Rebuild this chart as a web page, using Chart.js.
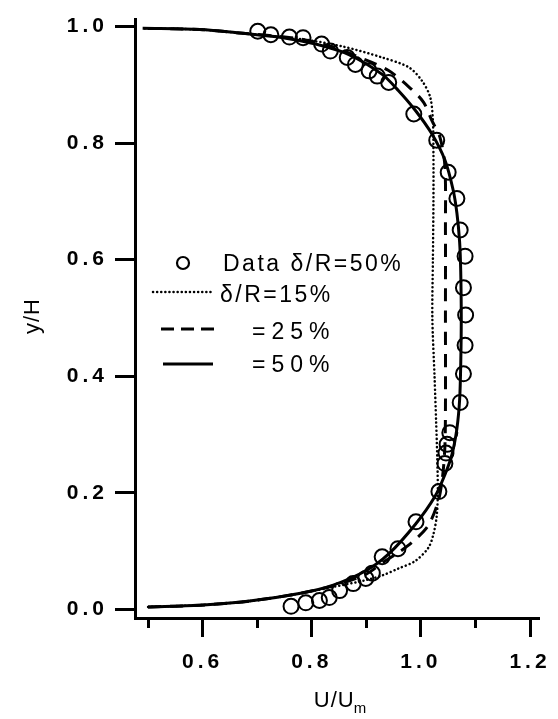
<!DOCTYPE html>
<html>
<head>
<meta charset="utf-8">
<script src="https://cdn.jsdelivr.net/npm/chart.js@4.4.1/dist/chart.umd.min.js"></script>
<style>
  html, body { margin: 0; padding: 0; background: #fff; }
  #wrap { width: 558px; height: 719px; }
</style>
</head>
<body>
<div id="wrap"><canvas id="profile" width="558" height="719"></canvas></div>
<script>
// measured velocity profile, delta/R = 50%
const dataU = [0.762, 0.789, 0.814, 0.832, 0.851, 0.876, 0.899, 0.911, 0.929, 0.958, 0.991, 1.033, 1.044, 1.046, 1.048, 1.053, 1.072, 1.078, 1.081, 1.082, 1.078, 1.081, 1.072, 1.066, 1.050, 1.029, 0.987, 0.941, 0.920, 0.905, 0.880, 0.865, 0.834, 0.818, 0.784, 0.759, 0.725, 0.701];
const dataY = [0.005, 0.011, 0.015, 0.020, 0.032, 0.044, 0.053, 0.062, 0.090, 0.104, 0.150, 0.202, 0.250, 0.268, 0.283, 0.303, 0.355, 0.404, 0.453, 0.505, 0.552, 0.606, 0.651, 0.705, 0.750, 0.805, 0.850, 0.904, 0.915, 0.924, 0.935, 0.947, 0.958, 0.970, 0.981, 0.982, 0.986, 0.992];

// computed profiles
const u15 = [0.500, 0.595, 0.686, 0.777, 0.838, 0.899, 0.929, 0.959, 0.990, 1.014, 1.023, 1.029, 1.031, 1.030, 1.028, 1.025, 1.021, 1.022, 1.023, 1.023, 1.022, 1.017, 1.002, 0.978, 0.929, 0.856, 0.777, 0.668, 0.595, 0.490];
const y15 = [0.004, 0.007, 0.014, 0.027, 0.038, 0.050, 0.058, 0.070, 0.083, 0.106, 0.129, 0.160, 0.200, 0.260, 0.320, 0.400, 0.500, 0.600, 0.700, 0.782, 0.839, 0.879, 0.907, 0.930, 0.947, 0.966, 0.979, 0.989, 0.995, 0.997];

const u25 = [0.500, 0.595, 0.686, 0.777, 0.838, 0.899, 0.930, 0.960, 0.984, 1.013, 1.032, 1.040, 1.044, 1.045, 1.045, 1.045, 1.044, 1.035, 1.020, 1.005, 0.982, 0.940, 0.880, 0.836, 0.777, 0.668, 0.595, 0.490];
const y25 = [0.004, 0.007, 0.014, 0.027, 0.040, 0.060, 0.080, 0.098, 0.115, 0.143, 0.186, 0.230, 0.280, 0.345, 0.500, 0.650, 0.760, 0.810, 0.839, 0.870, 0.893, 0.925, 0.950, 0.966, 0.979, 0.989, 0.995, 0.997];

const u50 = [0.500, 0.595, 0.686, 0.777, 0.838, 0.899, 0.941, 0.990, 1.026, 1.044, 1.057, 1.066, 1.071, 1.073, 1.074, 1.073, 1.071, 1.066, 1.059, 1.044, 1.020, 0.990, 0.959, 0.929, 0.868, 0.807, 0.747, 0.668, 0.595, 0.490];
const y50 = [0.004, 0.007, 0.014, 0.027, 0.041, 0.066, 0.095, 0.146, 0.194, 0.231, 0.266, 0.310, 0.360, 0.420, 0.500, 0.580, 0.630, 0.680, 0.720, 0.771, 0.816, 0.856, 0.890, 0.918, 0.952, 0.970, 0.981, 0.989, 0.995, 0.997];

const xTicks = [0.5, 0.6, 0.7, 0.8, 0.9, 1.0, 1.1, 1.2];
const xMajor = [0.6, 0.8, 1.0, 1.2];
const yTicks = [0.0, 0.2, 0.4, 0.6, 0.8, 1.0];
const legendLabels = ['Data \u03B4/R=50%', '\u03B4/R=15%', '=25%', '=50%'];

const FONT = '"Liberation Sans", Arial, Helvetica, sans-serif';

function pts(xs, ys) {
    return xs.map((x, i) => ({ x: x, y: ys[i] }));
}
function isMajor(v) {
    return xMajor.some(m => Math.abs(m - v) < 1e-6);
}

// short ticks, axis titles and the legend block
const extras = {
    id: 'extras',
    beforeDraw(chart) {
        chart.ctx.letterSpacing = '4px';
    },
    afterDraw(chart) {
        const ctx = chart.ctx;
        const xs = chart.scales.x;
        const bottom = chart.chartArea.bottom;
        ctx.save();
        ctx.strokeStyle = '#000';
        ctx.lineWidth = 3;
        xTicks.filter(v => !isMajor(v)).forEach(v => {
            const px = Math.round(xs.getPixelForValue(v)) + 0.5;
            ctx.beginPath();
            ctx.moveTo(px, bottom);
            ctx.lineTo(px, bottom + 10);
            ctx.stroke();
        });

        ctx.fillStyle = '#000';
        ctx.letterSpacing = '1px';
        // y title
        ctx.save();
        ctx.translate(39, 316);
        ctx.rotate(-Math.PI / 2);
        ctx.font = '22px ' + FONT;
        ctx.textAlign = 'center';
        ctx.textBaseline = 'alphabetic';
        ctx.fillText('y/H', 0, 0);
        ctx.restore();

        // x title with subscript
        ctx.textAlign = 'left';
        ctx.textBaseline = 'alphabetic';
        const main = 'U/U';
        ctx.font = '22px ' + FONT;
        const w1 = ctx.measureText(main).width;
        ctx.font = '15px ' + FONT;
        const w2 = ctx.measureText('m').width;
        const x0 = 341 - (w1 + w2) / 2;
        ctx.font = '22px ' + FONT;
        ctx.fillText(main, x0, 707);
        ctx.font = '15px ' + FONT;
        ctx.fillText('m', x0 + w1 - 1, 713);

        // legend
        ctx.font = '23px ' + FONT;
        ctx.letterSpacing = '2.5px';
        ctx.beginPath();
        ctx.lineWidth = 2.2;
        ctx.arc(183, 263, 6, 0, Math.PI * 2);
        ctx.stroke();
        ctx.fillText(legendLabels[0], 223, 271);

        ctx.lineWidth = 2.5;
        ctx.lineCap = 'round';
        ctx.setLineDash([0.1, 4]);
        ctx.beginPath();
        ctx.moveTo(153, 292);
        ctx.lineTo(212, 292);
        ctx.stroke();
        ctx.fillText(legendLabels[1], 220, 302);

        ctx.letterSpacing = '6px';
        ctx.lineCap = 'butt';
        ctx.lineWidth = 3;
        ctx.setLineDash([13, 7]);
        ctx.beginPath();
        ctx.moveTo(161, 329);
        ctx.lineTo(214, 329);
        ctx.stroke();
        ctx.fillText(legendLabels[2], 252, 339);

        ctx.setLineDash([]);
        ctx.beginPath();
        ctx.moveTo(163, 364);
        ctx.lineTo(213, 364);
        ctx.stroke();
        ctx.fillText(legendLabels[3], 252, 372);
        ctx.restore();
    }
};

const ctx = document.getElementById('profile').getContext('2d');
new Chart(ctx, {
    type: 'scatter',
    data: {
        datasets: [
            {
                label: 'delta/R=15%',
                data: pts(u15, y15),
                showLine: true,
                borderColor: '#000',
                borderWidth: 2.5,
                borderDash: [0.1, 4],
                borderCapStyle: 'round',
                tension: 0.3,
                pointRadius: 0
            },
            {
                label: '=25%',
                data: pts(u25, y25),
                showLine: true,
                borderColor: '#000',
                borderWidth: 3,
                borderDash: [13, 9],
                tension: 0.3,
                pointRadius: 0
            },
            {
                label: '=50%',
                data: pts(u50, y50),
                showLine: true,
                borderColor: '#000',
                borderWidth: 3,
                tension: 0.3,
                pointRadius: 0
            },
            {
                label: 'Data delta/R=50%',
                data: pts(dataU, dataY),
                showLine: false,
                pointRadius: 7.5,
                pointBorderWidth: 2,
                pointBorderColor: '#000',
                pointBackgroundColor: 'rgba(0,0,0,0)'
            }
        ]
    },
    options: {
        responsive: false,
        animation: false,
        layout: { padding: { top: 15, right: 16, left: 0, bottom: 0 } },
        plugins: {
            legend: { display: false },
            tooltip: { enabled: false }
        },
        scales: {
            x: {
                type: 'linear',
                min: 0.476,
                max: 1.218,
                afterFit: s => { s.height = 101; },
                afterBuildTicks: s => { s.ticks = xTicks.map(v => ({ value: v })); },
                border: { display: true, color: '#000', width: 3 },
                grid: {
                    drawOnChartArea: false,
                    tickLength: 19,
                    tickWidth: 3,
                    tickColor: c => (c.tick && isMajor(c.tick.value)) ? '#000' : 'rgba(0,0,0,0)'
                },
                ticks: {
                    color: '#000',
                    padding: 13,
                    maxRotation: 0,
                    autoSkip: false,
                    font: { family: FONT, size: 21, weight: 'bold' },
                    callback: v => isMajor(v) ? v.toFixed(1) : ''
                }
            },
            y: {
                type: 'linear',
                min: -0.015,
                max: 1.012,
                afterFit: s => { s.width = 135; },
                afterBuildTicks: s => { s.ticks = yTicks.map(v => ({ value: v })); },
                border: { display: true, color: '#000', width: 3 },
                grid: {
                    drawOnChartArea: false,
                    tickLength: 20,
                    tickWidth: 3,
                    tickColor: '#000'
                },
                ticks: {
                    color: '#000',
                    padding: 7,
                    font: { family: FONT, size: 21, weight: 'bold' },
                    callback: v => v.toFixed(1)
                }
            }
        }
    },
    plugins: [extras]
});
</script>
</body>
</html>
